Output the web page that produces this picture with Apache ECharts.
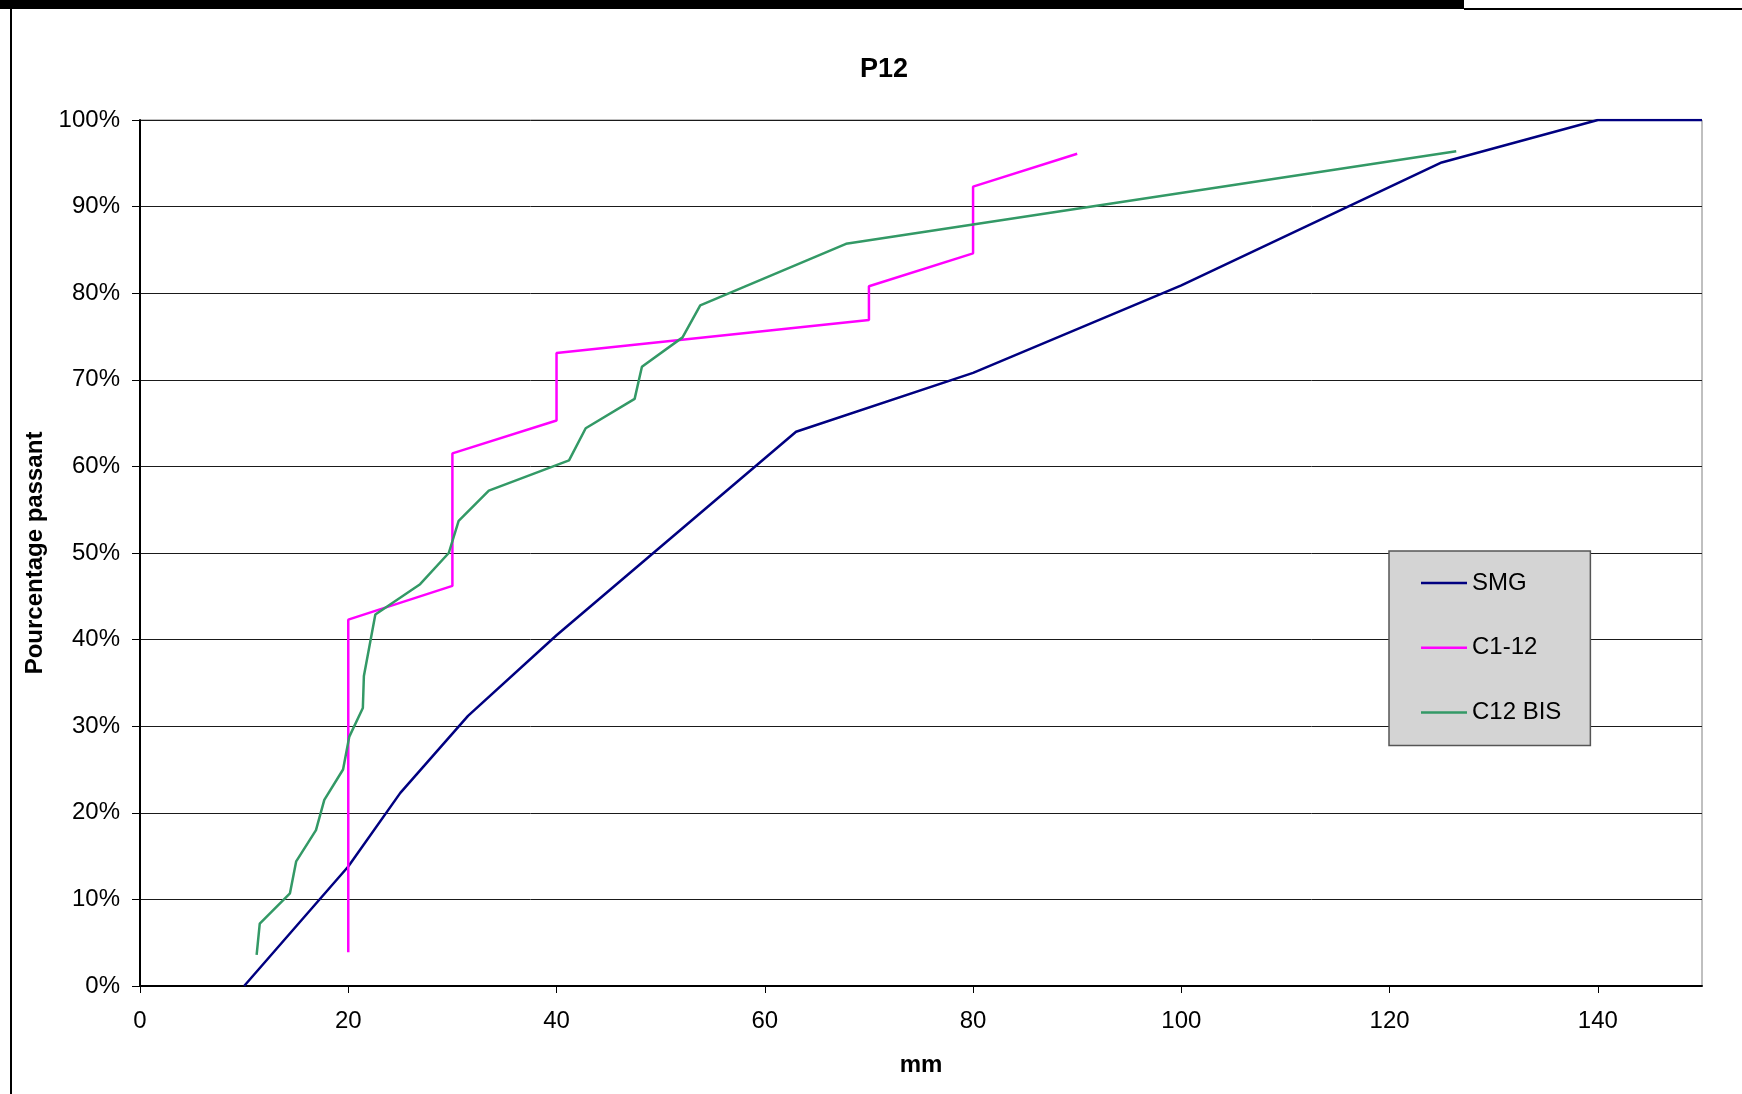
<!DOCTYPE html>
<html>
<head>
<meta charset="utf-8">
<title>P12</title>
<script src="https://cdn.jsdelivr.net/npm/echarts@6/dist/echarts.min.js"></script>
<style>
  html, body { margin: 0; padding: 0; background: #fff; }
  #chart { width: 1742px; height: 1094px; }
</style>
</head>
<body>
<div id="chart"></div>
<script>
// valeurs (mm / % passant)
var smgX = [10, 20, 25, 31.5, 40, 63, 80, 100, 125, 140, 150];
var smgY = [0, 13.8, 22.3, 31.2, 40.5, 64.0, 70.8, 80.9, 95.1, 100, 100];

var c112X = [20, 20, 30, 30, 40, 40, 70, 70, 80, 80, 90];
var c112Y = [3.9, 42.3, 46.2, 61.5, 65.3, 73.1, 76.9, 80.8, 84.6, 92.3, 96.1];

var c12bisX = [11.2, 11.5, 14.4, 15.0, 16.9, 17.7, 19.5, 20.1, 21.4, 21.5, 22.6, 26.9, 29.65, 30.6, 33.5, 41.2, 42.8, 47.5, 48.2, 52.1, 53.8, 67.8, 126.4];
var c12bisY = [3.6, 7.2, 10.7, 14.4, 18.0, 21.5, 25.0, 28.8, 32.1, 35.8, 42.9, 46.4, 50.0, 53.7, 57.2, 60.7, 64.4, 67.8, 71.5, 74.9, 78.6, 85.7, 96.4];

var seriesNames = ['SMG', 'C1-12', 'C12 BIS'];
var seriesColors = ['#000080', '#ff00ff', '#339966'];

var font = "'Liberation Sans', Arial, sans-serif";

function pairs(xs, ys) {
	var out = [];
	for (var i = 0; i < xs.length; i++) {
		out.push([xs[i], ys[i]]);
	}
	return out;
}

var allData = [pairs(smgX, smgY), pairs(c112X, c112Y), pairs(c12bisX, c12bisY)];

var myChart = echarts.init(document.getElementById('chart'), null, { renderer: 'canvas' });

var option = {
	animation: false,
	backgroundColor: '#fff',
	color: seriesColors,
	title: {
		text: 'P12',
		left: 855,
		top: 51,
		textStyle: { fontFamily: font, fontSize: 27, fontWeight: 'bold', color: '#000' }
	},
	grid: {
		left: 140, right: 40, top: 120, bottom: 108,
		show: true, borderColor: '#808080', borderWidth: 1,
		containLabel: false
	},
	legend: {
		orient: 'vertical',
		left: 1389, top: 551,
		backgroundColor: '#d4d4d4',
		borderColor: '#555',
		borderWidth: 1.5,
		padding: [20, 29, 21, 32],
		icon: 'rect',
		itemWidth: 46, itemHeight: 2.5, itemGap: 40.7,
		textStyle: { fontFamily: font, fontSize: 24, color: '#000' },
		data: seriesNames
	},
	xAxis: {
		type: 'value',
		min: 0, max: 150, interval: 20,
		name: 'mm',
		nameLocation: 'middle',
		nameGap: 67,
		nameTextStyle: { fontFamily: font, fontSize: 24, fontWeight: 'bold', color: '#000' },
		axisLine: { show: true, onZero: false, lineStyle: { color: '#000', width: 2 } },
		axisTick: { show: true, length: 7, lineStyle: { color: '#000', width: 1 } },
		axisLabel: { fontFamily: font, fontSize: 24, color: '#000', margin: 23, showMaxLabel: false },
		splitLine: { show: false }
	},
	yAxis: {
		type: 'value',
		min: 0, max: 100, interval: 10,
		name: 'Pourcentage passant',
		nameLocation: 'middle',
		nameGap: 80,
		nameTextStyle: { fontFamily: font, fontSize: 24, fontWeight: 'bold', color: '#000' },
		axisLine: { show: true, lineStyle: { color: '#000', width: 2 } },
		axisTick: { show: true, length: 8, lineStyle: { color: '#000', width: 1 } },
		axisLabel: { fontFamily: font, fontSize: 24, color: '#000', margin: 20, formatter: '{value}%' },
		splitLine: { show: true, lineStyle: { color: '#1a1a1a', width: 1 } }
	},
	series: seriesNames.map(function(name, i) {
		return {
			name: name,
			type: 'line',
			data: allData[i],
			symbol: 'none',
			lineStyle: { width: 2.5, color: seriesColors[i] },
			z: 3 + i
		};
	}),
	graphic: [
		// cadre du graphique (bandeau noir en haut, filet à gauche)
		{ type: 'rect', shape: { x: 0, y: 0, width: 1464, height: 9 }, style: { fill: '#000' }, silent: true },
		{ type: 'rect', shape: { x: 1464, y: 8, width: 278, height: 2 }, style: { fill: '#000' }, silent: true },
		{ type: 'rect', shape: { x: 10, y: 8, width: 2, height: 1086 }, style: { fill: '#000' }, silent: true }
	]
};

myChart.setOption(option);
</script>
</body>
</html>
